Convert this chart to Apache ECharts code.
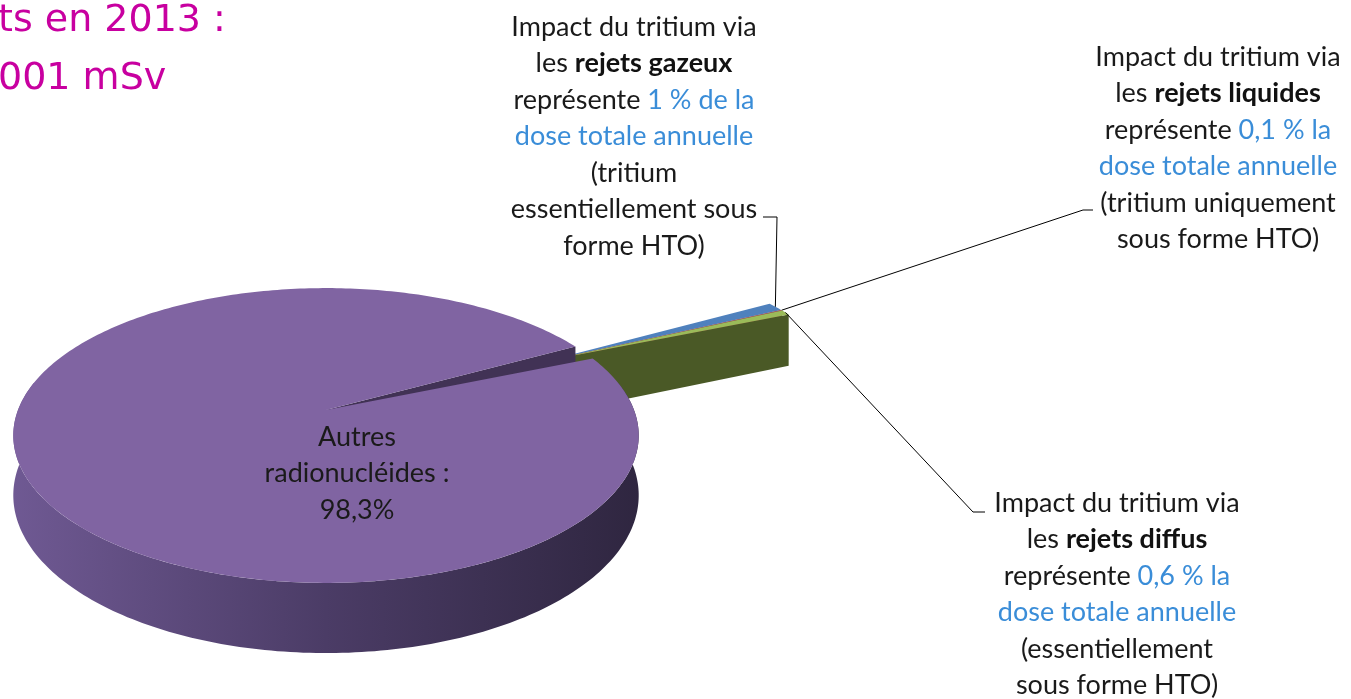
<!DOCTYPE html>
<html>
<head>
<meta charset="utf-8">
<script src="https://cdn.jsdelivr.net/npm/echarts@6/dist/echarts.min.js"></script>
<style>
  html, body { margin: 0; padding: 0; background: #fff; }
  #main { width: 1351px; height: 699px; }
</style>
</head>
<body>
<div id="main"></div>
<script>
// data (share of the annual dose, %)
const sliceNames = ["rejets gazeux", "rejets liquides", "rejets diffus", "Autres radionucléides"];
const sliceValues = [1.0, 0.1, 0.6, 98.3];
const sliceColors = ["#4F81BD", "#C0504D", "#9BBB59", "#8064A2"];
const faceColors = ["#34557e", "#7f3533", "#4a5926", "#413255"];
const explodedSlices = [true, true, true, false];

const titleLines = ["ts en 2013 :", "001 mSv"];

// pseudo 3D projection of the pie
const cx = 326, cy = 410, rx = 308, ry = 143, persp = 0.173, depth = 58;
const startAngle = 28.7;
const explodeDist = 0.86;

// leader line elbows (layout), keyed by slice index
const leaderPaths = {
  0: [[777, 217], [763, 217]],
  1: [[1083, 210], [1093, 210]],
  2: [[973, 512], [985, 512]],
};

const total = sliceValues.reduce((a, b) => a + b, 0);
const explodedSum = sliceValues.reduce((a, b, i) => a + (explodedSlices[i] ? b : 0), 0);
const rad = (d) => (d * Math.PI) / 180;

function proj(u, v, z) {
  const d = 1 + persp * v;
  return [cx + (rx * u) / d, cy - (ry * v) / d + (z * depth) / d];
}

function renderItem(params, api) {
  const i = params.dataIndex;
  const val = api.value(0);
  let cum = 0;
  for (let j = 0; j < i; j++) cum += sliceValues[j];
  const a1 = startAngle - (cum / total) * 360;
  const a0 = startAngle - ((cum + val) / total) * 360;

  let ox = 0, ov = 0;
  if (explodedSlices[i]) {
    const mid = rad(startAngle - (explodedSum / 2 / total) * 360);
    ox = explodeDist * Math.cos(mid);
    ov = explodeDist * Math.sin(mid);
  }
  const P = (a, r, z) => proj(ox + r * Math.cos(rad(a)), ov + r * Math.sin(rad(a)), z);
  const arc = (from, to, z) => {
    const n = Math.max(2, Math.ceil(Math.abs(to - from)));
    const pts = [];
    for (let s = 0; s <= n; s++) pts.push(P(from + ((to - from) * s) / n, 1, z));
    return pts;
  };

  const children = [];
  const sideFill = new echarts.graphic.LinearGradient(0, 0, 1, 0, [
    { offset: 0, color: "#6f5993" },
    { offset: 0.5, color: "#4b3c66" },
    { offset: 1, color: "#2f2640" },
  ]);

  // outer side, front part only
  for (let n = -2; n <= 1; n++) {
    const lo = Math.max(a0, 168.5 + 360 * n);
    const hi = Math.min(a1, 371.5 + 360 * n);
    if (hi > lo) {
      children.push({
        type: "polygon",
        shape: { points: arc(lo, hi, 0).concat(arc(hi, lo, 1)) },
        style: { fill: i === 3 ? sideFill : faceColors[i] },
      });
    }
  }
  // radial cut faces
  [[a0, a0 - 90], [a1, a1 + 90]].forEach(([a, nrm]) => {
    if (Math.sin(rad(nrm)) < 0) {
      children.push({
        type: "polygon",
        shape: { points: [P(a, 0, 0), P(a, 1, 0), P(a, 1, 1), P(a, 0, 1)] },
        style: { fill: faceColors[i] },
      });
    }
  });
  // top face
  children.push({
    type: "polygon",
    shape: { points: [P(0, 0, 0)].concat(arc(a0, a1, 0)) },
    style: { fill: sliceColors[i] },
  });
  // leader line
  if (leaderPaths[i]) {
    const m = (a0 + a1) / 2;
    children.push({
      type: "polyline",
      shape: { points: [P(m, 1, 0)].concat(leaderPaths[i]) },
      style: { stroke: "#000", lineWidth: 1, fill: null },
    });
  }
  return { type: "group", children: children };
}

const pct = (v) => String(v).replace(".", ",");
const baseText = { fontFamily: "Lato", fontSize: 27, lineHeight: 36.5 };
const rich = {
  b: Object.assign({ fontWeight: "bold", fill: "#111" }, baseText),
  c: Object.assign({ fill: "#3a8dd8" }, baseText),
};

function block(x, y, text) {
  return {
    type: "text",
    x: x,
    y: y,
    z: 10,
    silent: true,
    style: Object.assign({ text: text, align: "center", verticalAlign: "top", fill: "#1a1a1a", rich: rich }, baseText),
  };
}

let chartDom = document.getElementById("main");
let myChart = echarts.init(chartDom);
let option;

option = {
  animation: false,
  backgroundColor: "#fff",
  graphic: [
    {
      type: "text",
      x: -2,
      y: -8,
      z: 10,
      style: {
        text: titleLines.join("\n"),
        fontFamily: "DejaVu Sans",
        fontSize: 38,
        lineHeight: 58,
        fill: "#c800a0",
      },
    },
    block(634, 9,
      "Impact du tritium via\nles {b|" + sliceNames[0] + "}\nreprésente {c|" + pct(sliceValues[0]) +
      " % de la}\n{c|dose totale annuelle}\n(tritium\nessentiellement sous\nforme HTO)"),
    block(1218, 39,
      "Impact du tritium via\nles {b|" + sliceNames[1] + "}\nreprésente {c|" + pct(sliceValues[1]) +
      " % la}\n{c|dose totale annuelle}\n(tritium uniquement\nsous forme HTO)"),
    block(1117, 485,
      "Impact du tritium via\nles {b|" + sliceNames[2] + "}\nreprésente {c|" + pct(sliceValues[2]) +
      " % la}\n{c|dose totale annuelle}\n(essentiellement\nsous forme HTO)"),
    block(357, 419, "Autres\nradionucléides :\n" + pct(sliceValues[3]) + "%"),
  ],
  series: [
    {
      type: "custom",
      coordinateSystem: "none",
      silent: true,
      renderItem: renderItem,
      data: sliceValues.map((v, i) => ({ name: sliceNames[i], value: [v] })),
    },
  ],
};

option && myChart.setOption(option);
</script>
</body>
</html>
